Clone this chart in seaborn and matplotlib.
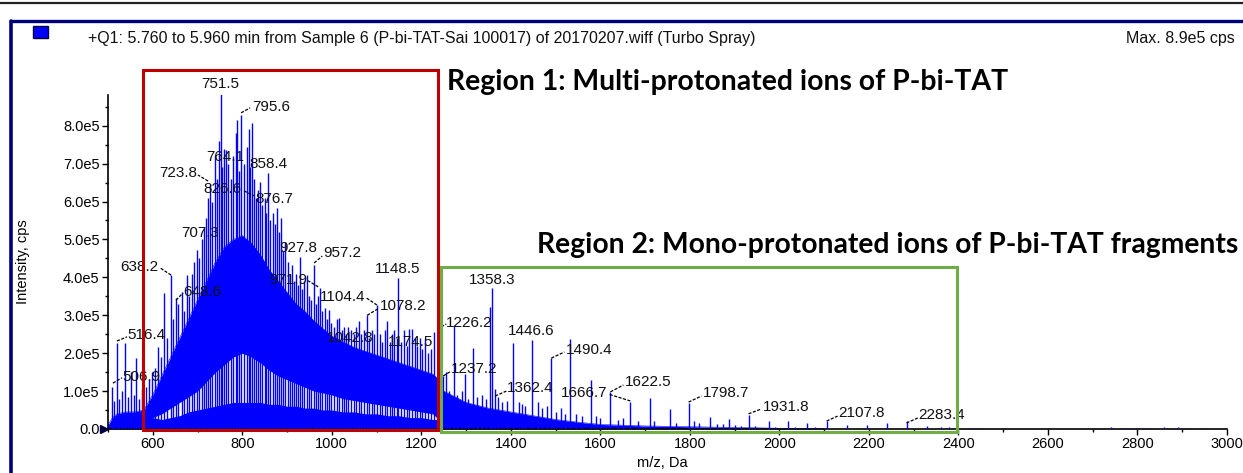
import numpy as np
import pandas as pd
import matplotlib
matplotlib.use("Agg")
import matplotlib.pyplot as plt
from matplotlib.patches import Rectangle
from matplotlib.lines import Line2D
from matplotlib.ticker import MultipleLocator, FixedLocator, FuncFormatter
import seaborn as sns

# ---------------- data (intensities in units of 1e5 cps) ----------------
title_text = "+Q1: 5.760 to 5.960 min from Sample 6 (P-bi-TAT-Sai 100017) of 20170207.wiff (Turbo Spray)"
max_text = "Max. 8.9e5 cps"
region1_text = "Region 1: Multi-protonated ions of P-bi-TAT"
region2_text = "Region 2: Mono-protonated ions of P-bi-TAT fragments"

# dense unresolved body of the spectrum (upper edge)
env_mz = [500, 510, 520, 540, 560, 580, 600, 620, 640, 660, 680, 700, 720, 740, 760, 780,
          800, 820, 840, 860, 880, 900, 920, 940, 960, 980, 1000, 1025, 1050, 1075, 1100,
          1125, 1150, 1175, 1200, 1225, 1240, 1250, 1275, 1300, 1350, 1400, 1450, 1500,
          1550, 1600, 1700, 1800, 1900, 2000, 2100]
env_top = [0.1, 0.3, 0.4, 0.45, 0.45, 0.5, 0.9, 1.4, 1.9, 2.4, 2.9, 3.4, 3.9, 4.4, 4.8, 5.0,
           5.1, 4.9, 4.6, 4.2, 3.9, 3.6, 3.3, 3.1, 2.85, 2.65, 2.45, 2.3, 2.15, 2.05, 1.95,
           1.85, 1.75, 1.65, 1.55, 1.45, 1.3, 1.0, 0.85, 0.7, 0.55, 0.45, 0.35, 0.25,
           0.18, 0.12, 0.08, 0.06, 0.04, 0.02, 0.01]

# valley region (open area between the low baseline signal and the body)
hollow_mz = [600, 620, 640, 660, 680, 700, 720, 740, 760, 780, 800, 820, 840, 860, 880, 900,
             920, 940, 960, 980, 1000, 1025, 1050, 1075, 1100, 1125, 1150, 1175, 1200, 1225, 1240]
hollow_low = [0.3, 0.25, 0.3, 0.35, 0.45, 0.5, 0.55, 0.6, 0.65, 0.7, 0.7, 0.7, 0.7, 0.65, 0.65, 0.6,
              0.6, 0.55, 0.55, 0.5, 0.5, 0.45, 0.45, 0.4, 0.4, 0.35, 0.35, 0.3, 0.3, 0.25, 0.25]
hollow_high = [0.3, 0.4, 0.55, 0.7, 0.85, 1.0, 1.25, 1.5, 1.7, 1.9, 2.0, 1.9, 1.75, 1.55, 1.4, 1.3,
               1.2, 1.1, 1.0, 0.95, 0.9, 0.8, 0.75, 0.7, 0.65, 0.6, 0.55, 0.5, 0.45, 0.4, 0.25]

# resolved peaks (m/z, intensity)
stick_mz = [508, 513, 519, 524, 531, 538, 545, 552, 558, 563, 570, 576, 586, 592, 598,
            605, 612, 618, 625, 632, 640, 645, 651, 656, 665, 670, 676, 681, 687, 692, 698,
            703, 709, 714, 720, 724, 728, 733, 739, 744, 747, 751.5, 755, 759, 764, 769, 774, 780, 785, 789, 793, 797,
            803, 810, 814, 818, 821, 826, 830, 835, 840, 845, 850, 854, 858, 863, 869, 873, 877, 882, 886, 891, 896,
            902, 906, 911, 916, 921, 925, 929, 934, 939, 944, 949, 953, 960, 965, 970, 974, 979, 984, 989, 994, 999,
            1005, 1011, 1017, 1022, 1028, 1032, 1037, 1043, 1049, 1055, 1061, 1066, 1072, 1078, 1083, 1089, 1095, 1101,
            1107, 1112, 1118, 1123, 1129, 1135, 1140, 1145, 1149, 1155, 1161, 1167, 1173, 1179, 1185, 1190, 1196,
            1202, 1208, 1215, 1221, 1229,
            1236, 1243, 1249, 1256, 1262, 1272, 1280, 1290, 1298, 1305, 1315, 1325, 1335, 1345, 1354, 1358.3,
            1365, 1372, 1380, 1392, 1405, 1418, 1425, 1432, 1447, 1460, 1470, 1480, 1490, 1500, 1512, 1520,
            1533, 1545, 1560, 1579, 1590, 1600, 1622.5, 1640, 1650, 1667, 1685, 1710, 1720, 1755, 1770,
            1798, 1810, 1820, 1845, 1860, 1875, 1887, 1900, 1915, 1932, 1945, 1976, 1990, 2019, 2035,
            2062, 2080, 2107, 2152, 2196, 2241, 2286, 2330, 2360, 2380, 2427, 2440,
            2714, 2740, 2760, 2775, 2790, 2810, 2830, 2860, 2875, 2890, 2920, 2940]
stick_int = [1.12, 0.75, 2.27, 0.8, 1.0, 2.27, 0.85, 1.5, 0.9, 1.87, 0.8, 1.05, 1.1, 1.3, 1.5,
             1.6, 2.15, 1.9, 3.6, 2.4, 4.06, 2.9, 3.45, 3.3, 3.62, 3.1, 4.06, 3.5, 4.1, 4.4, 4.72,
             4.5, 5.0, 5.3, 5.57, 6.1, 6.44, 6.0, 7.23, 6.6, 7.6, 8.86, 6.9, 7.38, 7.35, 7.0, 6.6, 7.2, 7.8, 8.15, 6.8, 8.28,
             7.0, 7.45, 7.9, 6.9, 8.07, 6.6, 6.1, 6.3, 6.52, 5.9, 6.1, 5.7, 6.75, 5.5, 5.7, 5.4, 5.83, 5.2, 5.57, 4.7, 4.94,
             4.4, 4.1, 4.33, 3.9, 4.1, 3.8, 4.55, 3.7, 3.9, 4.06, 3.5, 3.4, 4.33, 3.3, 3.5, 3.72, 3.1, 3.2, 2.9, 3.14, 2.8,
             2.7, 2.9, 2.93, 2.6, 2.7, 2.5, 2.7, 2.6, 2.5, 2.7, 2.85, 2.5, 2.6, 3.0, 2.4, 2.6, 2.5, 3.27,
             2.5, 2.3, 2.6, 2.85, 2.3, 2.5, 2.6, 2.4, 3.98, 2.3, 2.6, 2.2, 2.65, 2.65, 2.4, 2.2, 2.4,
             2.1, 2.4, 2.0, 2.1, 2.57,
             1.3, 1.2, 1.4, 1.5, 1.0, 2.74, 0.9, 1.0, 1.45, 0.8, 2.14, 0.85, 0.9, 0.8, 3.23, 3.72,
             1.05, 0.85, 0.7, 0.75, 2.27, 0.7, 0.65, 0.6, 2.35, 0.7, 0.55, 0.6, 1.87, 0.45, 0.55, 0.4,
             2.37, 0.4, 0.35, 1.29, 0.35, 0.3, 0.98, 0.25, 0.3, 0.72, 0.2, 0.82, 0.2, 0.53, 0.15,
             0.69, 0.2, 0.15, 0.32, 0.12, 0.12, 0.27, 0.1, 0.08, 0.37, 0.08, 0.2, 0.06, 0.22, 0.05,
             0.15, 0.04, 0.2, 0.1, 0.1, 0.15, 0.2, 0.08, 0.05, 0.04, 0.03, 0.03,
             0.03, 0.04, 0.03, 0.03, 0.03, 0.03, 0.03, 0.04, 0.03, 0.04, 0.03, 0.03]

peak_labels = ["751.5", "795.6", "764.1", "858.4", "723.8", "826.6", "876.7", "707.3", "927.8",
               "957.2", "638.2", "648.6", "971.9", "1148.5", "1104.4", "1078.2", "516.4", "1042.8",
               "1174.5", "506.9", "1358.3", "1226.2", "1446.6", "1490.4", "1237.2", "1362.4",
               "1666.7", "1622.5", "1798.7", "1931.8", "2107.8", "2283.4"]

y_tick_values = [0, 1, 2, 3, 4, 5, 6, 7, 8]
x_tick_values = [600, 800, 1000, 1200, 1400, 1600, 1800, 2000, 2200, 2400, 2600, 2800, 3000]

# ---------------- layout of the peak labels (text x, text y, align, leader) ----------------
label_layout = [
    (750.4, 9.10, "center", None),
    (822, 8.50, "left", (797.4, 8.34, 817.5, 8.47)),
    (762.7, 7.18, "center", None),
    (857.8, 6.99, "center", None),
    (699, 6.75, "right", (723.6, 6.54, 701, 6.70)),
    (755, 6.33, "center", None),
    (828.7, 6.07, "left", (804, 6.28, 826.5, 6.15)),
    (705.7, 5.18, "center", None),
    (924.8, 4.78, "center", None),
    (980.7, 4.64, "left", (960.6, 4.38, 978.5, 4.56)),
    (611.8, 4.28, "right", (640.9, 4.06, 616.3, 4.25)),
    (667.7, 3.62, "left", (652, 3.40, 667.7, 3.59)),
    (945, 3.93, "right", (969.6, 3.75, 947.2, 3.91)),
    (1147.3, 4.22, "center", None),
    (1074.7, 3.49, "right", (1100.8, 3.27, 1076.9, 3.46)),
    (1108.2, 3.25, "left", (1079.1, 3.0, 1105.9, 3.19)),
    (542.5, 2.48, "left", (520, 2.32, 542.5, 2.43)),
    (1041, 2.40, "center", None),
    (1175.3, 2.30, "center", None),
    (531.3, 1.38, "left", (511, 1.21, 531.3, 1.35)),
    (1357.5, 3.93, "center", None),
    (1255.8, 2.80, "left", (1235.6, 2.64, 1255.8, 2.77)),
    (1445.8, 2.59, "center", None),
    (1521.9, 2.08, "left", (1490.5, 1.87, 1519.6, 2.03)),
    (1267, 1.58, "left", (1249, 1.40, 1267, 1.53)),
    (1392, 1.08, "left", (1365, 0.87, 1390, 1.0)),
    (1615.8, 0.95, "right", (1667, 0.74, 1618, 0.92)),
    (1653.8, 1.25, "left", (1622.5, 0.98, 1651.5, 1.16)),
    (1828, 0.94, "left", (1797, 0.71, 1826, 0.87)),
    (1962, 0.59, "left", (1931, 0.40, 1960, 0.53)),
    (2132, 0.41, "left", (2105.5, 0.21, 2130, 0.34)),
    (2311, 0.37, "left", (2284, 0.16, 2309, 0.29)),
]

# ---------------- style ----------------
sns.set_theme(style="ticks")
plt.rcParams['font.family'] = ['Liberation Sans', 'DejaVu Sans']

W, H = 1243, 473
fig = plt.figure(figsize=(W / 100, H / 100), dpi=100)
fig.patch.set_facecolor("white")


def fx(px):
    return px / W


def fy(py):
    return 1 - py / H


ax = fig.add_axes([fx(108), fy(429), (1227 - 108) / W, (429 - 95) / H])
ax.set_facecolor("white")
SC = 1e5
BLUE = "#0000ff"

env_df = pd.DataFrame({"mz": env_mz, "top": np.array(env_top) * SC})
ax.fill_between(env_df["mz"], 0, env_df["top"], color=BLUE, lw=0, zorder=1)
sns.lineplot(data=env_df, x="mz", y="top", color=BLUE, lw=0.4, ax=ax, zorder=1.5)
ax.fill_between(hollow_mz, np.array(hollow_low) * SC, np.array(hollow_high) * SC,
                color="white", lw=0, zorder=2)
ax.vlines(stick_mz, 0, np.array(stick_int) * SC, color=BLUE, lw=1.0, zorder=3)

ax.set_xlim(500, 3000)
ax.set_ylim(0, 8.81 * SC)
ax.xaxis.set_major_locator(FixedLocator(x_tick_values))
ax.xaxis.set_minor_locator(MultipleLocator(100))
ax.yaxis.set_major_locator(FixedLocator([v * SC for v in y_tick_values]))
ax.yaxis.set_minor_locator(MultipleLocator(0.5 * SC))
ax.yaxis.set_major_formatter(FuncFormatter(lambda v, p: "0.0" if v == 0 else f"{v / SC:.1f}e5"))
ax.tick_params(axis="both", which="major", direction="out", length=4, width=1.0,
               labelsize=10.5, colors="black", pad=2)
ax.tick_params(axis="both", which="minor", direction="out", length=2.5, width=1.0, colors="black")
for s in ["top", "right"]:
    ax.spines[s].set_visible(False)
for s in ["left", "bottom"]:
    ax.spines[s].set_color("black")
    ax.spines[s].set_linewidth(1.2)
ax.grid(False)

ax.set_xlabel("m/z, Da", fontsize=10.5, color="black")
ax.set_ylabel("Intensity, cps", fontsize=10.5, color="black")
ax.xaxis.set_label_coords(0.495, -0.081)
ax.yaxis.set_label_coords(-0.0697, 0.5)

# zero marker on the left end of the axis
ax.plot([491], [0], marker=">", ms=6, color="#000040", clip_on=False, zorder=6)

# peak labels
for txt, (tx, ty, ha, lead) in zip(peak_labels, label_layout):
    ax.text(tx, ty * SC, txt, ha=ha, va="center", fontsize=11, color="#111111", zorder=5)
    if lead is not None:
        x1, y1, x2, y2 = lead
        ax.plot([x1, x2], [y1 * SC, y2 * SC], color="black", lw=0.9, ls=(0, (2.5, 1.2)),
                zorder=5, clip_on=False)

# ---------------- figure decorations ----------------
fig.add_artist(Line2D([0, 1], [fy(3), fy(3)], color="#222222", lw=1.6))
fig.add_artist(Line2D([fx(11), 1], [fy(21), fy(21)], color="#00007a", lw=2.4))
fig.add_artist(Line2D([fx(11), fx(11)], [fy(21), 0], color="#00007a", lw=2.6))
fig.add_artist(Rectangle((fx(33), fy(38)), (48 - 33) / W, (38 - 26) / H, transform=fig.transFigure,
                         fc=BLUE, ec="#000033", lw=1))

t_title = fig.text(fx(88), fy(38), title_text, ha="left", va="center", fontsize=10, color="#111111")
t_max = fig.text(fx(1126), fy(38), max_text, ha="left", va="center", fontsize=10, color="#111111")

fig.add_artist(Rectangle((fx(143), fy(430)), (438 - 143) / W, (430 - 70) / H, transform=fig.transFigure,
                         fill=False, ec="#c00000", lw=2.2, zorder=10))
fig.add_artist(Rectangle((fx(441), fy(432)), (957 - 441) / W, (432 - 267) / H, transform=fig.transFigure,
                         fill=False, ec="#70ad47", lw=2.2, zorder=10))
t_r1 = fig.text(fx(447), fy(82), region1_text, ha="left", va="center", fontsize=17,
                fontweight="bold", family=["Lato", "DejaVu Sans"], color="black")
t_r2 = fig.text(fx(537), fy(245), region2_text, ha="left", va="center", fontsize=17,
                fontweight="bold", family=["Lato", "DejaVu Sans"], color="black")

fig.canvas.draw()
renderer = fig.canvas.get_renderer()
for t, target in [(t_title, 667), (t_r1, 561), (t_r2, 701)]:
    w = t.get_window_extent(renderer).width
    t.set_fontsize(t.get_fontsize() * target / w)
t_max.set_fontsize(t_title.get_fontsize())

fig.savefig("out.png", dpi=100)
